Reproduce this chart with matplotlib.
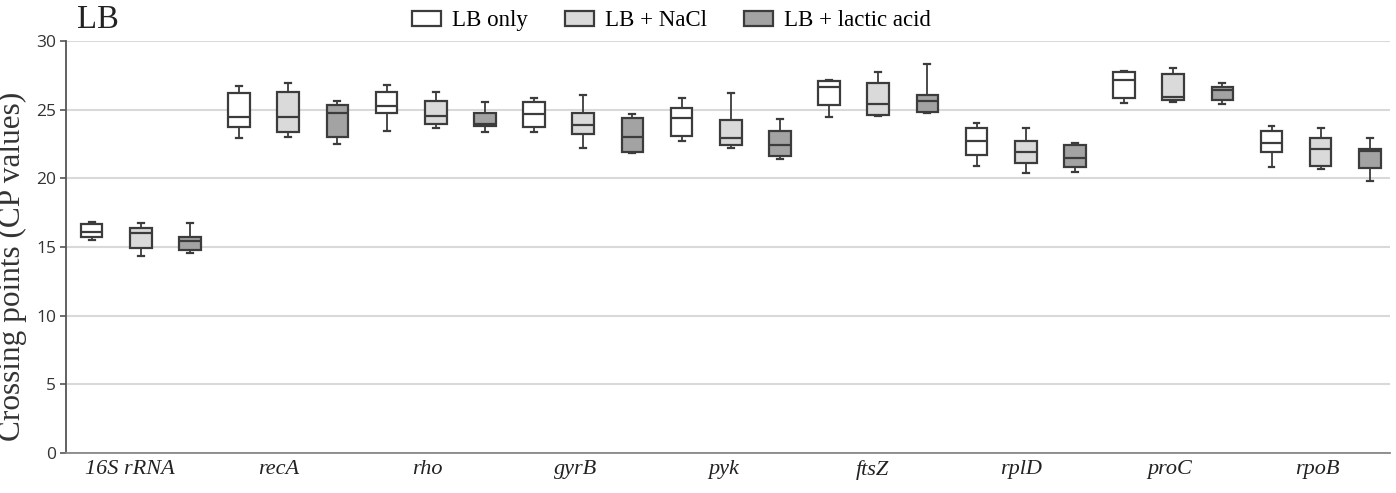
import numpy as np
import matplotlib
matplotlib.use("Agg")
import matplotlib.pyplot as plt
from matplotlib.patches import Patch

# gene targets and growth conditions
genes = ['16S rRNA', 'recA', 'rho', 'gyrB', 'pyk', 'ftsZ', 'rplD', 'proC', 'rpoB']
conditions = ['LB only', 'LB + NaCl', 'LB + lactic acid']

# box statistics (CP values)
lb_whislo = [15.51, 22.96, 23.47, 23.35, 22.69, 24.44, 20.90, 25.48, 20.82]
lb_q1 = [15.72, 23.74, 24.78, 23.71, 23.10, 25.36, 21.72, 25.87, 21.89]
lb_med = [16.07, 24.46, 25.24, 24.66, 24.39, 26.65, 22.74, 27.14, 22.57]
lb_q3 = [16.70, 26.21, 26.31, 25.56, 25.12, 27.06, 23.69, 27.72, 23.47]
lb_whishi = [16.84, 26.74, 26.77, 25.87, 25.87, 27.16, 24.00, 27.82, 23.83]

nacl_whislo = [14.34, 23.01, 23.64, 22.18, 22.23, 24.54, 20.36, 25.53, 20.66]
nacl_q1 = [14.95, 23.40, 23.95, 23.20, 22.43, 24.61, 21.14, 25.70, 20.92]
nacl_med = [16.00, 24.46, 24.56, 23.86, 22.91, 25.44, 21.94, 25.92, 22.11]
nacl_q3 = [16.36, 26.29, 25.65, 24.78, 24.25, 26.97, 22.69, 27.57, 22.91]
nacl_whishi = [16.77, 26.97, 26.31, 26.04, 26.19, 27.72, 23.69, 28.06, 23.69]

lac_whislo = [14.54, 22.48, 23.35, 21.84, 21.41, 24.78, 20.48, 25.43, 19.83]
lac_q1 = [14.80, 22.99, 23.81, 21.89, 21.65, 24.81, 20.82, 25.70, 20.75]
lac_med = [15.43, 24.78, 23.95, 23.03, 22.43, 25.61, 21.45, 26.43, 22.01]
lac_q3 = [15.70, 25.34, 24.78, 24.37, 23.47, 26.07, 22.40, 26.67, 22.13]
lac_whishi = [16.74, 25.63, 25.53, 24.66, 24.34, 28.30, 22.57, 26.92, 22.94]

series = [
    (lb_whislo, lb_q1, lb_med, lb_q3, lb_whishi),
    (nacl_whislo, nacl_q1, nacl_med, nacl_q3, nacl_whishi),
    (lac_whislo, lac_q1, lac_med, lac_q3, lac_whishi),
]
fills = ['#ffffff', '#dadada', '#a3a3a3']
edge = '#3c3c3c'

fig = plt.figure(figsize=(13.96, 4.93), dpi=100)
ax = fig.add_axes([0.0473, 0.0811, 0.9484, 0.8357])

for k, (wlo, q1, med, q3, whi) in enumerate(series):
    stats = []
    for g in range(len(genes)):
        stats.append(dict(whislo=wlo[g], q1=q1[g], med=med[g], q3=q3[g],
                          whishi=whi[g], fliers=[]))
    pos = [3 * g + k for g in range(len(genes))]
    ax.bxp(stats, positions=pos, widths=0.44, patch_artist=True,
           showfliers=False, capwidths=0.12,
           boxprops=dict(facecolor=fills[k], edgecolor=edge, linewidth=1.6),
           medianprops=dict(color=edge, linewidth=1.6),
           whiskerprops=dict(color=edge, linewidth=1.3),
           capprops=dict(color=edge, linewidth=1.6), zorder=3)

ax.set_xlim(-0.52, 26.41)
ax.set_ylim(0, 30)
ax.set_yticks(np.arange(0, 31, 5))
ax.yaxis.grid(True, color='#d9d9d9', linewidth=1.5, zorder=0)
ax.set_axisbelow(True)

# category labels sit a little left of the middle box
ax.set_xticks([3.02 * g + 0.78 for g in range(len(genes))])
ax.set_xticklabels(genes, family='Liberation Serif', style='italic',
                   fontsize=16, color='#222222')
ax.tick_params(axis='x', length=0, pad=5)
ax.tick_params(axis='y', length=4, width=1.2, color='#555555', pad=3,
               labelsize=12.5, labelcolor='#333333')
for lab in ax.get_yticklabels():
    lab.set_family('Open Sans')

for side in ['top', 'right']:
    ax.spines[side].set_visible(False)
ax.spines['left'].set_color('#555555')
ax.spines['left'].set_linewidth(1.3)
ax.spines['bottom'].set_color('#888888')
ax.spines['bottom'].set_linewidth(1.3)

fig.text(0.009, 0.46, 'Crossing points (CP values)', rotation=90,
         family='Liberation Serif', fontsize=22.5, color='#333333',
         ha='center', va='center')
fig.text(0.055, 0.943, 'LB', family='Liberation Serif', fontsize=23.5,
         color='#222222', ha='left', va='baseline')

handles = [Patch(facecolor=fills[k], edgecolor=edge, linewidth=1.6)
           for k in range(len(conditions))]
fig.legend(handles, conditions, loc='center', bbox_to_anchor=(0.481, 0.958),
           ncol=3, frameon=False, handlelength=1.27, handleheight=0.65,
           handletextpad=0.5, columnspacing=1.6,
           prop=dict(family='Liberation Serif', size=16.5))

fig.savefig('out.png', dpi=100)
